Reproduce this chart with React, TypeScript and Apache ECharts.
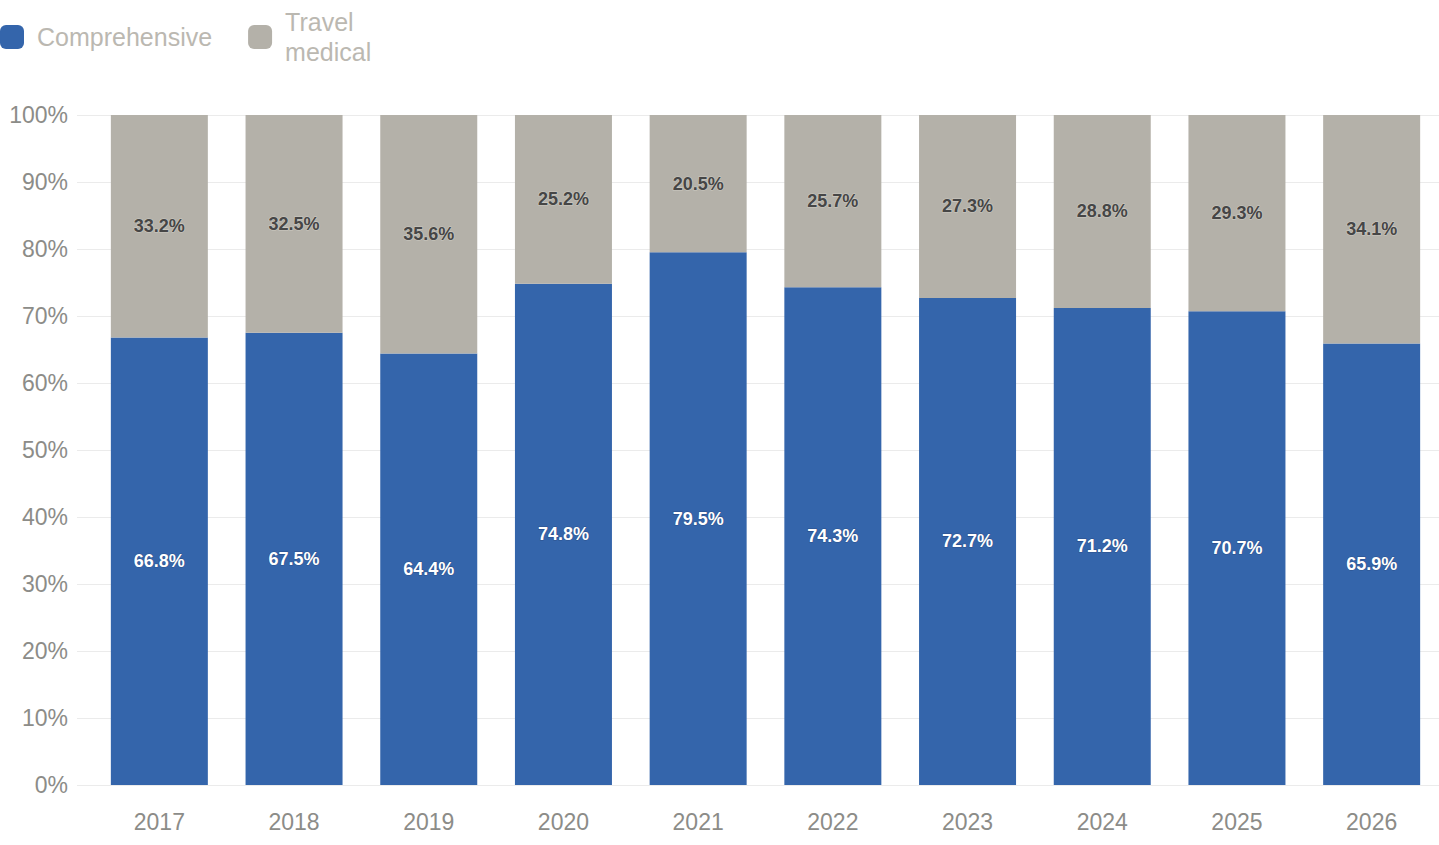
import React, { useEffect, useRef } from "react";
import * as echarts from "echarts";

const categories = ["2017", "2018", "2019", "2020", "2021", "2022", "2023", "2024", "2025", "2026"];
const comprehensive = [66.8, 67.5, 64.4, 74.8, 79.5, 74.3, 72.7, 71.2, 70.7, 65.9];
const travelMedical = [33.2, 32.5, 35.6, 25.2, 20.5, 25.7, 27.3, 28.8, 29.3, 34.1];
const seriesNames = ["Comprehensive", "Travel medical"];

const FONT = "'Liberation Sans', Arial, Helvetica, sans-serif";

export default function App() {
  const ref = useRef<HTMLDivElement>(null);
  useEffect(() => {
    if (!ref.current) return;
    const chart = echarts.init(ref.current, undefined, { renderer: "svg" });
    const label = (color: string, border: string) => ({
      show: true,
      position: "inside" as const,
      formatter: (p: any) => `${Number(p.value).toFixed(1)}%`,
      color,
      fontFamily: FONT,
      fontSize: 18,
      fontWeight: "bold" as const,
      textBorderColor: border,
      textBorderWidth: 1.2,
    });
    chart.setOption({
      animation: false,
      textStyle: { fontFamily: FONT },
      legend: {
        left: 0,
        top: 7,
        padding: 0,
        itemWidth: 24,
        itemHeight: 24,
        itemGap: 36,
        icon: "roundRect",
        data: seriesNames,
        formatter: (name: string) => (name === "Travel medical" ? "Travel\nmedical" : name),
        textStyle: { color: "#bbb8b1", fontSize: 25, lineHeight: 30, fontFamily: FONT, padding: [0, 0, 0, 8] },
      },
      grid: [
        { left: 77, right: 0, top: 115, bottom: 60 },
        { left: 92, right: 0, top: 115, bottom: 60 },
      ],
      xAxis: [
        { type: "value", gridIndex: 0, show: false, min: 0, max: 1 },
        {
          type: "category",
          gridIndex: 1,
          data: categories,
          axisLine: { show: false },
          axisTick: { show: false },
          axisLabel: { color: "#8c8c88", fontSize: 23, margin: 25, fontFamily: FONT },
        },
      ],
      yAxis: [
        {
          type: "value",
          gridIndex: 0,
          min: 0,
          max: 100,
          interval: 10,
          axisLine: { show: false },
          axisTick: { show: false },
          axisLabel: { formatter: "{value}%", color: "#8c8c88", fontSize: 23, margin: 9, fontFamily: FONT },
          splitLine: { lineStyle: { color: "#ebebeb", width: 1 } },
        },
        {
          type: "value",
          gridIndex: 1,
          min: 0,
          max: 100,
          interval: 10,
          show: false,
          splitLine: { show: false },
        },
      ],
      series: [
        {
          name: seriesNames[0],
          type: "bar",
          stack: "total",
          xAxisIndex: 1,
          yAxisIndex: 1,
          data: comprehensive,
          barWidth: 97,
          itemStyle: { color: "#3465ab" },
          label: label("#ffffff", "rgba(20,40,80,0.35)"),
        },
        {
          name: seriesNames[1],
          type: "bar",
          stack: "total",
          xAxisIndex: 1,
          yAxisIndex: 1,
          data: travelMedical,
          barWidth: 97,
          itemStyle: { color: "#b4b1a9" },
          label: label("#464646", "rgba(230,228,222,0.5)"),
        },
      ],
    });
    return () => chart.dispose();
  }, []);
  return (
    <div
      ref={ref}
      style={{ position: "fixed", left: 0, top: 0, width: 1439, height: 845, background: "#ffffff" }}
    />
  );
}
